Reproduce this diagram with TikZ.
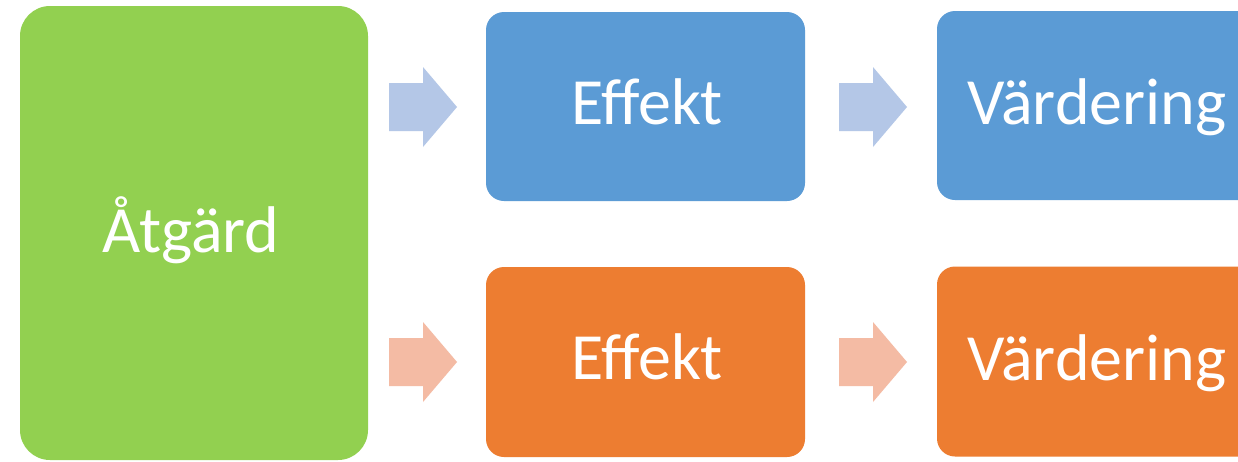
\documentclass[tikz,border=0pt]{standalone}
\usepackage{fontspec}
\setmainfont{Carlito}
\definecolor{cgreen}{HTML}{92D050}
\definecolor{cblue}{HTML}{5B9BD5}
\definecolor{corange}{HTML}{ED7D31}
\definecolor{cbluelight}{HTML}{B4C7E7}
\definecolor{corangelight}{HTML}{F4BBA4}
\tikzset{
  box/.style={draw=none, inner sep=0pt, rounded corners=18pt},
  bluebox/.style={box, fill=cblue, minimum width=319pt, minimum height=189pt},
  orangebox/.style={box, fill=corange, minimum width=319pt, minimum height=190pt},
  greenbox/.style={draw=none, fill=cgreen, inner sep=0pt, rounded corners=30pt, minimum width=348pt, minimum height=454pt},
  lbl/.style={text=white, anchor=base, inner sep=0pt, font=\fontsize{66}{78}\selectfont},
  pics/fatarrow/.style={code={
    \fill[#1] (0,-24) -- (34,-24) -- (34,-40) -- (68,0) -- (34,40) -- (34,24) -- (0,24) -- cycle;
  }}
}
\begin{document}
\begin{tikzpicture}[x=1pt,y=-1pt]
\clip (0,0) rectangle (1238,461);
\fill[white] (0,0) rectangle (1238,461);
% boxes
\node[greenbox] (g) at (194,233) {};
\node[bluebox] (b1) at (645.5,106.5) {};
\node[bluebox] (b2) at (1096.5,105.5) {};
\node[orangebox] (o1) at (645.5,362) {};
\node[orangebox] (o2) at (1096.5,361.5) {};
% labels
\node[lbl] (tg) at (191,252) {Åtgärd};
\node[lbl] (tb1) at (647,124) {Effekt};
\node[lbl] (tb2) at (1097,124) {Värdering};
\node[lbl] (to1) at (647,379) {Effekt};
\node[lbl] (to2) at (1097,380) {Värdering};
% arrows
\pic (a1) at (389,107) {fatarrow=cbluelight};
\pic (a2) at (839,107) {fatarrow=cbluelight};
\pic (a3) at (389,362) {fatarrow=corangelight};
\pic (a4) at (839,362) {fatarrow=corangelight};
\end{tikzpicture}
\end{document}
